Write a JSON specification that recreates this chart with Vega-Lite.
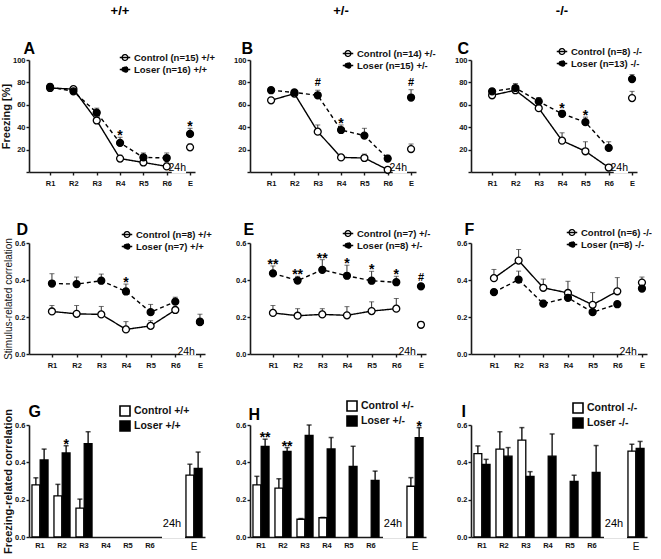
{
"$schema": "https://vega.github.io/schema/vega-lite/v6.json",
"background": "white",
"padding": {"left": 0, "top": 5, "right": 0, "bottom": 0},
"bounds": "flush",
"columns": 3,
"spacing": {"row": 71, "column": 45},
"resolve": {"scale": {"fill": "independent", "strokeDash": "independent", "xOffset": "independent"}, "legend": {"fill": "independent", "strokeDash": "independent"}},
"config": {
  "font": "Liberation Sans",
  "view": {"stroke": null},
  "axis": {"domainColor": "#1a1a1a", "domainWidth": 1.6, "tickColor": "#1a1a1a", "tickWidth": 1.4, "tickSize": 3, "labelFontSize": 7.5, "labelFontWeight": "bold", "labelColor": "#111", "grid": false, "titleColor": "#111", "zindex": 0},
  "axisX": {"labelPadding": 4, "titleAlign": "left", "titleAnchor": "start", "titleBaseline": "alphabetic", "titleFontSize": 16, "titleFontWeight": "bold", "titleColor": "black", "labelAngle": 0},
  "axisY": {"labelPadding": 1, "titlePadding": 1},
  "legend": {"labelFontSize": 9.5, "labelFontWeight": "bold", "labelColor": "#111", "rowPadding": -2, "padding": 0, "symbolStrokeColor": "black", "symbolStrokeWidth": 1.3, "labelOffset": 3, "labelLimit": 200},
  "title": {"anchor": "middle", "frame": "group", "font": "Liberation Sans", "fontWeight": "bold", "fontSize": 13, "color": "black", "offset": 22, "dx": 8}
},
"datasets": {
  "A": [
    {"round": "R1", "group": "Control (n=15) +/+", "value": 75, "err": 77},
    {"round": "R2", "group": "Control (n=15) +/+", "value": 74, "err": 76},
    {"round": "R3", "group": "Control (n=15) +/+", "value": 46, "err": 49},
    {"round": "R4", "group": "Control (n=15) +/+", "value": 12, "err": 15},
    {"round": "R5", "group": "Control (n=15) +/+", "value": 8.5, "err": 11},
    {"round": "R6", "group": "Control (n=15) +/+", "value": 5, "err": 8},
    {"round": "E", "group": "Control (n=15) +/+", "value": 22, "err": 25},
    {"round": "R1", "group": "Loser (n=16) +/+", "value": 76, "err": 79},
    {"round": "R2", "group": "Loser (n=16) +/+", "value": 72, "err": 74},
    {"round": "R3", "group": "Loser (n=16) +/+", "value": 53, "err": 57},
    {"round": "R4", "group": "Loser (n=16) +/+", "value": 26, "err": 31, "sig": "*"},
    {"round": "R5", "group": "Loser (n=16) +/+", "value": 13, "err": 17},
    {"round": "R6", "group": "Loser (n=16) +/+", "value": 12.5, "err": 17},
    {"round": "E", "group": "Loser (n=16) +/+", "value": 34, "err": 39, "sig": "*"}
  ],
  "B": [
    {"round": "R1", "group": "Control (n=14) +/-", "value": 64, "err": 66},
    {"round": "R2", "group": "Control (n=14) +/-", "value": 70, "err": 72},
    {"round": "R3", "group": "Control (n=14) +/-", "value": 36, "err": 42},
    {"round": "R4", "group": "Control (n=14) +/-", "value": 13, "err": 15},
    {"round": "R5", "group": "Control (n=14) +/-", "value": 12.5, "err": 16},
    {"round": "R6", "group": "Control (n=14) +/-", "value": 2, "err": 3},
    {"round": "E", "group": "Control (n=14) +/-", "value": 20.5, "err": 25},
    {"round": "R1", "group": "Loser (n=15) +/-", "value": 73, "err": 75.5},
    {"round": "R2", "group": "Loser (n=15) +/-", "value": 71, "err": 73.5},
    {"round": "R3", "group": "Loser (n=15) +/-", "value": 68.5, "err": 73, "sig": "#"},
    {"round": "R4", "group": "Loser (n=15) +/-", "value": 37.5, "err": 42, "sig": "*"},
    {"round": "R5", "group": "Loser (n=15) +/-", "value": 32.5, "err": 39},
    {"round": "R6", "group": "Loser (n=15) +/-", "value": 12, "err": 15},
    {"round": "E", "group": "Loser (n=15) +/-", "value": 66.5, "err": 73.5, "sig": "#"}
  ],
  "C": [
    {"round": "R1", "group": "Control (n=8) -/-", "value": 68.5, "err": 70},
    {"round": "R2", "group": "Control (n=8) -/-", "value": 73, "err": 76},
    {"round": "R3", "group": "Control (n=8) -/-", "value": 57, "err": 60},
    {"round": "R4", "group": "Control (n=8) -/-", "value": 28, "err": 35},
    {"round": "R5", "group": "Control (n=8) -/-", "value": 18.5, "err": 27},
    {"round": "R6", "group": "Control (n=8) -/-", "value": 4, "err": 5},
    {"round": "E", "group": "Control (n=8) -/-", "value": 66, "err": 72},
    {"round": "R1", "group": "Loser (n=13) -/-", "value": 72, "err": 74.5},
    {"round": "R2", "group": "Loser (n=13) -/-", "value": 75, "err": 79},
    {"round": "R3", "group": "Loser (n=13) -/-", "value": 63, "err": 66.5},
    {"round": "R4", "group": "Loser (n=13) -/-", "value": 52, "err": 55, "sig": "*"},
    {"round": "R5", "group": "Loser (n=13) -/-", "value": 44.5, "err": 49, "sig": "*"},
    {"round": "R6", "group": "Loser (n=13) -/-", "value": 21.5, "err": 27},
    {"round": "E", "group": "Loser (n=13) -/-", "value": 83, "err": 87}
  ],
  "D": [
    {"round": "R1", "group": "Control (n=8) +/+", "value": 0.23, "err": 0.262},
    {"round": "R2", "group": "Control (n=8) +/+", "value": 0.217, "err": 0.262},
    {"round": "R3", "group": "Control (n=8) +/+", "value": 0.214, "err": 0.257},
    {"round": "R4", "group": "Control (n=8) +/+", "value": 0.133, "err": 0.175},
    {"round": "R5", "group": "Control (n=8) +/+", "value": 0.152, "err": 0.18},
    {"round": "R6", "group": "Control (n=8) +/+", "value": 0.238, "err": 0.248},
    {"round": "E", "group": "Control (n=8) +/+", "value": 0.175, "err": 0.19},
    {"round": "R1", "group": "Loser (n=7) +/+", "value": 0.381, "err": 0.434},
    {"round": "R2", "group": "Loser (n=7) +/+", "value": 0.378, "err": 0.416},
    {"round": "R3", "group": "Loser (n=7) +/+", "value": 0.396, "err": 0.432},
    {"round": "R4", "group": "Loser (n=7) +/+", "value": 0.338, "err": 0.378, "sig": "*"},
    {"round": "R5", "group": "Loser (n=7) +/+", "value": 0.226, "err": 0.268},
    {"round": "R6", "group": "Loser (n=7) +/+", "value": 0.283, "err": 0.307},
    {"round": "E", "group": "Loser (n=7) +/+", "value": 0.172, "err": 0.215}
  ],
  "E": [
    {"round": "R1", "group": "Control (n=7) +/-", "value": 0.222, "err": 0.262},
    {"round": "R2", "group": "Control (n=7) +/-", "value": 0.207, "err": 0.245},
    {"round": "R3", "group": "Control (n=7) +/-", "value": 0.214, "err": 0.245},
    {"round": "R4", "group": "Control (n=7) +/-", "value": 0.209, "err": 0.256},
    {"round": "R5", "group": "Control (n=7) +/-", "value": 0.232, "err": 0.282},
    {"round": "R6", "group": "Control (n=7) +/-", "value": 0.245, "err": 0.3},
    {"round": "E", "group": "Control (n=7) +/-", "value": 0.158, "err": 0.175},
    {"round": "R1", "group": "Loser (n=8) +/-", "value": 0.436, "err": 0.476, "sig": "**"},
    {"round": "R2", "group": "Loser (n=8) +/-", "value": 0.397, "err": 0.42, "sig": "**"},
    {"round": "R3", "group": "Loser (n=8) +/-", "value": 0.455, "err": 0.51, "sig": "**"},
    {"round": "R4", "group": "Loser (n=8) +/-", "value": 0.423, "err": 0.48, "sig": "*"},
    {"round": "R5", "group": "Loser (n=8) +/-", "value": 0.396, "err": 0.447, "sig": "*"},
    {"round": "R6", "group": "Loser (n=8) +/-", "value": 0.388, "err": 0.42, "sig": "*"},
    {"round": "E", "group": "Loser (n=8) +/-", "value": 0.366, "err": 0.375, "sig": "#"}
  ],
  "F": [
    {"round": "R1", "group": "Control (n=6) -/-", "value": 0.41, "err": 0.457},
    {"round": "R2", "group": "Control (n=6) -/-", "value": 0.505, "err": 0.565},
    {"round": "R3", "group": "Control (n=6) -/-", "value": 0.358, "err": 0.405},
    {"round": "R4", "group": "Control (n=6) -/-", "value": 0.33, "err": 0.393},
    {"round": "R5", "group": "Control (n=6) -/-", "value": 0.266, "err": 0.332},
    {"round": "R6", "group": "Control (n=6) -/-", "value": 0.339, "err": 0.413},
    {"round": "E", "group": "Control (n=6) -/-", "value": 0.386, "err": 0.416},
    {"round": "R1", "group": "Loser (n=8) -/-", "value": 0.334, "err": 0.35},
    {"round": "R2", "group": "Loser (n=8) -/-", "value": 0.402, "err": 0.448},
    {"round": "R3", "group": "Loser (n=8) -/-", "value": 0.272, "err": 0.29},
    {"round": "R4", "group": "Loser (n=8) -/-", "value": 0.304, "err": 0.33},
    {"round": "R5", "group": "Loser (n=8) -/-", "value": 0.226, "err": 0.235},
    {"round": "R6", "group": "Loser (n=8) -/-", "value": 0.269, "err": 0.28},
    {"round": "E", "group": "Loser (n=8) -/-", "value": 0.354, "err": 0.368}
  ],
  "G": [
    {"round": "R1", "group": "Control +/+", "value": 0.279, "err": 0.317},
    {"round": "R2", "group": "Control +/+", "value": 0.22, "err": 0.282},
    {"round": "R3", "group": "Control +/+", "value": 0.155, "err": 0.203},
    {"round": "E", "group": "Control +/+", "value": 0.332, "err": 0.39},
    {"round": "R1", "group": "Loser +/+", "value": 0.413, "err": 0.471},
    {"round": "R2", "group": "Loser +/+", "value": 0.45, "err": 0.489, "sig": "*"},
    {"round": "R3", "group": "Loser +/+", "value": 0.5, "err": 0.564},
    {"round": "E", "group": "Loser +/+", "value": 0.367, "err": 0.455}
  ],
  "H": [
    {"round": "R1", "group": "Control +/-", "value": 0.279, "err": 0.325},
    {"round": "R2", "group": "Control +/-", "value": 0.262, "err": 0.312},
    {"round": "R3", "group": "Control +/-", "value": 0.095, "err": 0.099},
    {"round": "R4", "group": "Control +/-", "value": 0.103, "err": 0.105},
    {"round": "E", "group": "Control +/-", "value": 0.272, "err": 0.318},
    {"round": "R1", "group": "Loser +/-", "value": 0.486, "err": 0.524, "sig": "**"},
    {"round": "R2", "group": "Loser +/-", "value": 0.459, "err": 0.479, "sig": "**"},
    {"round": "R3", "group": "Loser +/-", "value": 0.544, "err": 0.6},
    {"round": "R4", "group": "Loser +/-", "value": 0.472, "err": 0.533},
    {"round": "R5", "group": "Loser +/-", "value": 0.378, "err": 0.486},
    {"round": "R6", "group": "Loser +/-", "value": 0.303, "err": 0.353},
    {"round": "E", "group": "Loser +/-", "value": 0.532, "err": 0.586, "sig": "*"}
  ],
  "I": [
    {"round": "R1", "group": "Control -/-", "value": 0.447, "err": 0.488},
    {"round": "R2", "group": "Control -/-", "value": 0.471, "err": 0.564},
    {"round": "R3", "group": "Control -/-", "value": 0.519, "err": 0.586},
    {"round": "E", "group": "Control -/-", "value": 0.46, "err": 0.497},
    {"round": "R1", "group": "Loser -/-", "value": 0.389, "err": 0.416},
    {"round": "R2", "group": "Loser -/-", "value": 0.433, "err": 0.479},
    {"round": "R3", "group": "Loser -/-", "value": 0.324, "err": 0.35},
    {"round": "R4", "group": "Loser -/-", "value": 0.433, "err": 0.552},
    {"round": "R5", "group": "Loser -/-", "value": 0.298, "err": 0.331},
    {"round": "R6", "group": "Loser -/-", "value": 0.346, "err": 0.49},
    {"round": "E", "group": "Loser -/-", "value": 0.475, "err": 0.512}
  ]
},
"concat": [
{
  "width": 166, "height": 112,
  "data": {"name": "A"},
  "title": {"text": "+/+"},
  "encoding": {
    "x": {"field": "round", "type": "ordinal", "scale": {"type": "point", "domain": ["R1","R2","R3","R4","R5","R6","E"], "padding": 0.558, "align": 0.81}, "axis": {"title": "A", "titleX": -6, "titleY": -119}},
    "y": {"field": "value", "type": "quantitative", "scale": {"domain": [0, 100]}, "axis": {"title": "Freezing [%]", "titleFontSize": 11, "titleFontWeight": "bold", "values": [0,20,40,60,80,100], "labelExpr": "datum.value == 0 ? '' : datum.label"}}
  },
  "layer": [
    {"data": {"values": [{"round": "R6", "end": "E", "value": 0}]}, "mark": {"type": "rule", "color": "white", "strokeWidth": 3, "xOffset": 5, "x2Offset": -4}, "encoding": {"x2": {"field": "end"}}},
    {"transform": [{"filter": "datum.round != 'E'"}], "mark": {"type": "line", "color": "black", "strokeWidth": 1.4}, "encoding": {"strokeDash": {"field": "group", "type": "nominal", "scale": {"domain": ["Control (n=15) +/+", "Loser (n=16) +/+"], "range": [[1,0],[4,3]]}, "legend": {"title": null, "orient": "none", "legendX": 90, "legendY": -8.5, "symbolType": "M-1,0L1,0M0.55,0A0.55,0.55,0,1,1,-0.55,0A0.55,0.55,0,1,1,0.55,0Z", "symbolSize": 110}}}},
    {"mark": {"type": "rule", "color": "#333", "strokeWidth": 1}, "encoding": {"y2": {"field": "err"}}},
    {"mark": {"type": "tick", "color": "#333", "thickness": 1, "size": 5}, "encoding": {"y": {"field": "err", "type": "quantitative", "scale": {"domain": [0, 100]}, "axis": {"title": "Freezing [%]", "titleFontSize": 11, "titleFontWeight": "bold", "values": [0,20,40,60,80,100], "labelExpr": "datum.value == 0 ? '' : datum.label"}}}},
    {"mark": {"type": "point", "shape": "circle", "filled": true, "size": 48, "stroke": "black", "strokeWidth": 1.3, "opacity": 1}, "encoding": {
      "fill": {"field": "group", "type": "nominal", "scale": {"domain": ["Control (n=15) +/+", "Loser (n=16) +/+"], "range": ["white", "black"]}, "legend": {"title": null, "orient": "none", "legendX": 90, "legendY": -8.5, "symbolType": "M-1,0L1,0M0.55,0A0.55,0.55,0,1,1,-0.55,0A0.55,0.55,0,1,1,0.55,0Z", "symbolSize": 110}}}},
    {"transform": [{"filter": "datum.sig == '*' || datum.sig == '**'"}], "mark": {"type": "text", "fontSize": 14, "fontWeight": "bold", "baseline": "alphabetic", "dy": 3}, "encoding": {"y": {"field": "err", "type": "quantitative", "scale": {"domain": [0, 100]}, "axis": {"title": "Freezing [%]", "titleFontSize": 11, "titleFontWeight": "bold", "values": [0,20,40,60,80,100], "labelExpr": "datum.value == 0 ? '' : datum.label"}}, "text": {"field": "sig"}}},
    {"data": {"values": [{"round": "E", "value": 0, "label": "24h"}]}, "mark": {"type": "text", "align": "right", "baseline": "alphabetic", "dx": -4, "dy": -1, "fontSize": 10.5}, "encoding": {"text": {"field": "label"}}}
  ]
},
{
  "width": 166, "height": 112,
  "data": {"name": "B"},
  "title": {"text": "+/-"},
  "encoding": {
    "x": {"field": "round", "type": "ordinal", "scale": {"type": "point", "domain": ["R1","R2","R3","R4","R5","R6","E"], "padding": 0.558, "align": 0.81}, "axis": {"title": "B", "titleX": -9, "titleY": -119}},
    "y": {"field": "value", "type": "quantitative", "scale": {"domain": [0, 100]}, "axis": {"title": null, "values": [0,20,40,60,80,100], "labelExpr": "datum.value == 0 ? '' : datum.label"}}
  },
  "layer": [
    {"data": {"values": [{"round": "R6", "end": "E", "value": 0}]}, "mark": {"type": "rule", "color": "white", "strokeWidth": 3, "xOffset": 5, "x2Offset": -4}, "encoding": {"x2": {"field": "end"}}},
    {"transform": [{"filter": "datum.round != 'E'"}], "mark": {"type": "line", "color": "black", "strokeWidth": 1.4}, "encoding": {"strokeDash": {"field": "group", "type": "nominal", "scale": {"domain": ["Control (n=14) +/-", "Loser (n=15) +/-"], "range": [[1,0],[4,3]]}, "legend": {"title": null, "orient": "none", "legendX": 92, "legendY": -12.5, "symbolType": "M-1,0L1,0M0.55,0A0.55,0.55,0,1,1,-0.55,0A0.55,0.55,0,1,1,0.55,0Z", "symbolSize": 110}}}},
    {"mark": {"type": "rule", "color": "#333", "strokeWidth": 1}, "encoding": {"y2": {"field": "err"}}},
    {"mark": {"type": "tick", "color": "#333", "thickness": 1, "size": 5}, "encoding": {"y": {"field": "err", "type": "quantitative", "scale": {"domain": [0, 100]}, "axis": {"title": null, "values": [0,20,40,60,80,100], "labelExpr": "datum.value == 0 ? '' : datum.label"}}}},
    {"mark": {"type": "point", "shape": "circle", "filled": true, "size": 48, "stroke": "black", "strokeWidth": 1.3, "opacity": 1}, "encoding": {
      "fill": {"field": "group", "type": "nominal", "scale": {"domain": ["Control (n=14) +/-", "Loser (n=15) +/-"], "range": ["white", "black"]}, "legend": {"title": null, "orient": "none", "legendX": 92, "legendY": -12.5, "symbolType": "M-1,0L1,0M0.55,0A0.55,0.55,0,1,1,-0.55,0A0.55,0.55,0,1,1,0.55,0Z", "symbolSize": 110}}}},
    {"transform": [{"filter": "datum.sig == '*' || datum.sig == '**'"}], "mark": {"type": "text", "fontSize": 14, "fontWeight": "bold", "baseline": "alphabetic", "dy": 3}, "encoding": {"y": {"field": "err", "type": "quantitative", "scale": {"domain": [0, 100]}, "axis": {"title": null, "values": [0,20,40,60,80,100], "labelExpr": "datum.value == 0 ? '' : datum.label"}}, "text": {"field": "sig"}}},
    {"transform": [{"filter": "datum.sig == '#'"}], "mark": {"type": "text", "fontSize": 11, "fontWeight": "bold", "baseline": "alphabetic", "dy": -4}, "encoding": {"y": {"field": "err", "type": "quantitative", "scale": {"domain": [0, 100]}, "axis": {"title": null, "values": [0,20,40,60,80,100], "labelExpr": "datum.value == 0 ? '' : datum.label"}}, "text": {"field": "sig"}}},
    {"data": {"values": [{"round": "E", "value": 0, "label": "24h"}]}, "mark": {"type": "text", "align": "right", "baseline": "alphabetic", "dx": -4, "dy": -1, "fontSize": 10.5}, "encoding": {"text": {"field": "label"}}}
  ]
},
{
  "width": 166, "height": 112,
  "data": {"name": "C"},
  "title": {"text": "-/-"},
  "encoding": {
    "x": {"field": "round", "type": "ordinal", "scale": {"type": "point", "domain": ["R1","R2","R3","R4","R5","R6","E"], "padding": 0.558, "align": 0.81}, "axis": {"title": "C", "titleX": -14, "titleY": -119}},
    "y": {"field": "value", "type": "quantitative", "scale": {"domain": [0, 100]}, "axis": {"title": null, "values": [0,20,40,60,80,100], "labelExpr": "datum.value == 0 ? '' : datum.label"}}
  },
  "layer": [
    {"data": {"values": [{"round": "R6", "end": "E", "value": 0}]}, "mark": {"type": "rule", "color": "white", "strokeWidth": 3, "xOffset": 5, "x2Offset": -4}, "encoding": {"x2": {"field": "end"}}},
    {"transform": [{"filter": "datum.round != 'E'"}], "mark": {"type": "line", "color": "black", "strokeWidth": 1.4}, "encoding": {"strokeDash": {"field": "group", "type": "nominal", "scale": {"domain": ["Control (n=8) -/-", "Loser (n=13) -/-"], "range": [[1,0],[4,3]]}, "legend": {"title": null, "orient": "none", "legendX": 85, "legendY": -14.5, "symbolType": "M-1,0L1,0M0.55,0A0.55,0.55,0,1,1,-0.55,0A0.55,0.55,0,1,1,0.55,0Z", "symbolSize": 110}}}},
    {"mark": {"type": "rule", "color": "#333", "strokeWidth": 1}, "encoding": {"y2": {"field": "err"}}},
    {"mark": {"type": "tick", "color": "#333", "thickness": 1, "size": 5}, "encoding": {"y": {"field": "err", "type": "quantitative", "scale": {"domain": [0, 100]}, "axis": {"title": null, "values": [0,20,40,60,80,100], "labelExpr": "datum.value == 0 ? '' : datum.label"}}}},
    {"mark": {"type": "point", "shape": "circle", "filled": true, "size": 48, "stroke": "black", "strokeWidth": 1.3, "opacity": 1}, "encoding": {
      "fill": {"field": "group", "type": "nominal", "scale": {"domain": ["Control (n=8) -/-", "Loser (n=13) -/-"], "range": ["white", "black"]}, "legend": {"title": null, "orient": "none", "legendX": 85, "legendY": -14.5, "symbolType": "M-1,0L1,0M0.55,0A0.55,0.55,0,1,1,-0.55,0A0.55,0.55,0,1,1,0.55,0Z", "symbolSize": 110}}}},
    {"transform": [{"filter": "datum.sig == '*' || datum.sig == '**'"}], "mark": {"type": "text", "fontSize": 14, "fontWeight": "bold", "baseline": "alphabetic", "dy": 3}, "encoding": {"y": {"field": "err", "type": "quantitative", "scale": {"domain": [0, 100]}, "axis": {"title": null, "values": [0,20,40,60,80,100], "labelExpr": "datum.value == 0 ? '' : datum.label"}}, "text": {"field": "sig"}}},
    {"data": {"values": [{"round": "E", "value": 0, "label": "24h"}]}, "mark": {"type": "text", "align": "right", "baseline": "alphabetic", "dx": -4, "dy": -1, "fontSize": 10.5}, "encoding": {"text": {"field": "label"}}}
  ]
},
{
  "width": 176, "height": 111,
  "data": {"name": "D"},
  "encoding": {
    "x": {"field": "round", "type": "ordinal", "scale": {"type": "point", "domain": ["R1","R2","R3","R4","R5","R6","E"], "padding": 0.567, "align": 0.82}, "axis": {"title": "D", "titleX": -13, "titleY": -120}},
    "y": {"field": "value", "type": "quantitative", "scale": {"domain": [0, 0.6]}, "axis": {"title": "Stimulus-related correlation", "titleFontSize": 10, "titleFontWeight": "normal", "values": [0,0.2,0.4,0.6], "format": ".1f"}}
  },
  "layer": [
    {"data": {"values": [{"round": "R6", "end": "E", "value": 0}]}, "mark": {"type": "rule", "color": "white", "strokeWidth": 3, "xOffset": 5, "x2Offset": -4}, "encoding": {"x2": {"field": "end"}}},
    {"transform": [{"filter": "datum.round != 'E'"}], "mark": {"type": "line", "color": "black", "strokeWidth": 1.4}, "encoding": {"strokeDash": {"field": "group", "type": "nominal", "scale": {"domain": ["Control (n=8) +/+", "Loser (n=7) +/+"], "range": [[1,0],[4,3]]}, "legend": {"title": null, "orient": "none", "legendX": 92, "legendY": -14.5, "symbolType": "M-1,0L1,0M0.55,0A0.55,0.55,0,1,1,-0.55,0A0.55,0.55,0,1,1,0.55,0Z", "symbolSize": 110}}}},
    {"mark": {"type": "rule", "color": "#333", "strokeWidth": 1}, "encoding": {"y2": {"field": "err"}}},
    {"mark": {"type": "tick", "color": "#333", "thickness": 1, "size": 5}, "encoding": {"y": {"field": "err", "type": "quantitative", "scale": {"domain": [0, 0.6]}, "axis": {"title": "Stimulus-related correlation", "titleFontSize": 10, "titleFontWeight": "normal", "values": [0,0.2,0.4,0.6], "format": ".1f"}}}},
    {"mark": {"type": "point", "shape": "circle", "filled": true, "size": 48, "stroke": "black", "strokeWidth": 1.3, "opacity": 1}, "encoding": {
      "fill": {"field": "group", "type": "nominal", "scale": {"domain": ["Control (n=8) +/+", "Loser (n=7) +/+"], "range": ["white", "black"]}, "legend": {"title": null, "orient": "none", "legendX": 92, "legendY": -14.5, "symbolType": "M-1,0L1,0M0.55,0A0.55,0.55,0,1,1,-0.55,0A0.55,0.55,0,1,1,0.55,0Z", "symbolSize": 110}}}},
    {"transform": [{"filter": "datum.sig == '*' || datum.sig == '**'"}], "mark": {"type": "text", "fontSize": 14, "fontWeight": "bold", "baseline": "alphabetic", "dy": 3}, "encoding": {"y": {"field": "err", "type": "quantitative", "scale": {"domain": [0, 0.6]}, "axis": {"title": "Stimulus-related correlation", "titleFontSize": 10, "titleFontWeight": "normal", "values": [0,0.2,0.4,0.6], "format": ".1f"}}, "text": {"field": "sig"}}},
    {"data": {"values": [{"round": "E", "value": 0, "label": "24h"}]}, "mark": {"type": "text", "align": "right", "baseline": "alphabetic", "dx": -5, "dy": 1, "fontSize": 10.5}, "encoding": {"text": {"field": "label"}}}
  ]
},
{
  "width": 176, "height": 111,
  "data": {"name": "E"},
  "encoding": {
    "x": {"field": "round", "type": "ordinal", "scale": {"type": "point", "domain": ["R1","R2","R3","R4","R5","R6","E"], "padding": 0.567, "align": 0.82}, "axis": {"title": "E", "titleX": -7, "titleY": -120}},
    "y": {"field": "value", "type": "quantitative", "scale": {"domain": [0, 0.6]}, "axis": {"title": null, "values": [0,0.2,0.4,0.6], "format": ".1f"}}
  },
  "layer": [
    {"data": {"values": [{"round": "R6", "end": "E", "value": 0}]}, "mark": {"type": "rule", "color": "white", "strokeWidth": 3, "xOffset": 5, "x2Offset": -4}, "encoding": {"x2": {"field": "end"}}},
    {"transform": [{"filter": "datum.round != 'E'"}], "mark": {"type": "line", "color": "black", "strokeWidth": 1.4}, "encoding": {"strokeDash": {"field": "group", "type": "nominal", "scale": {"domain": ["Control (n=7) +/-", "Loser (n=8) +/-"], "range": [[1,0],[4,3]]}, "legend": {"title": null, "orient": "none", "legendX": 92, "legendY": -15.5, "symbolType": "M-1,0L1,0M0.55,0A0.55,0.55,0,1,1,-0.55,0A0.55,0.55,0,1,1,0.55,0Z", "symbolSize": 110}}}},
    {"mark": {"type": "rule", "color": "#333", "strokeWidth": 1}, "encoding": {"y2": {"field": "err"}}},
    {"mark": {"type": "tick", "color": "#333", "thickness": 1, "size": 5}, "encoding": {"y": {"field": "err", "type": "quantitative", "scale": {"domain": [0, 0.6]}, "axis": {"title": null, "values": [0,0.2,0.4,0.6], "format": ".1f"}}}},
    {"mark": {"type": "point", "shape": "circle", "filled": true, "size": 48, "stroke": "black", "strokeWidth": 1.3, "opacity": 1}, "encoding": {
      "fill": {"field": "group", "type": "nominal", "scale": {"domain": ["Control (n=7) +/-", "Loser (n=8) +/-"], "range": ["white", "black"]}, "legend": {"title": null, "orient": "none", "legendX": 92, "legendY": -15.5, "symbolType": "M-1,0L1,0M0.55,0A0.55,0.55,0,1,1,-0.55,0A0.55,0.55,0,1,1,0.55,0Z", "symbolSize": 110}}}},
    {"transform": [{"filter": "datum.sig == '*' || datum.sig == '**'"}], "mark": {"type": "text", "fontSize": 14, "fontWeight": "bold", "baseline": "alphabetic", "dy": 3}, "encoding": {"y": {"field": "err", "type": "quantitative", "scale": {"domain": [0, 0.6]}, "axis": {"title": null, "values": [0,0.2,0.4,0.6], "format": ".1f"}}, "text": {"field": "sig"}}},
    {"transform": [{"filter": "datum.sig == '#'"}], "mark": {"type": "text", "fontSize": 11, "fontWeight": "bold", "baseline": "alphabetic", "dy": -4}, "encoding": {"y": {"field": "err", "type": "quantitative", "scale": {"domain": [0, 0.6]}, "axis": {"title": null, "values": [0,0.2,0.4,0.6], "format": ".1f"}}, "text": {"field": "sig"}}},
    {"data": {"values": [{"round": "E", "value": 0, "label": "24h"}]}, "mark": {"type": "text", "align": "right", "baseline": "alphabetic", "dx": -5, "dy": 1, "fontSize": 10.5}, "encoding": {"text": {"field": "label"}}}
  ]
},
{
  "width": 176, "height": 111,
  "data": {"name": "F"},
  "encoding": {
    "x": {"field": "round", "type": "ordinal", "scale": {"type": "point", "domain": ["R1","R2","R3","R4","R5","R6","E"], "padding": 0.567, "align": 0.82}, "axis": {"title": "F", "titleX": -7, "titleY": -120}},
    "y": {"field": "value", "type": "quantitative", "scale": {"domain": [0, 0.6]}, "axis": {"title": null, "values": [0,0.2,0.4,0.6], "format": ".1f"}}
  },
  "layer": [
    {"data": {"values": [{"round": "R6", "end": "E", "value": 0}]}, "mark": {"type": "rule", "color": "white", "strokeWidth": 3, "xOffset": 5, "x2Offset": -4}, "encoding": {"x2": {"field": "end"}}},
    {"transform": [{"filter": "datum.round != 'E'"}], "mark": {"type": "line", "color": "black", "strokeWidth": 1.4}, "encoding": {"strokeDash": {"field": "group", "type": "nominal", "scale": {"domain": ["Control (n=6) -/-", "Loser (n=8) -/-"], "range": [[1,0],[4,3]]}, "legend": {"title": null, "orient": "none", "legendX": 95, "legendY": -16.5, "symbolType": "M-1,0L1,0M0.55,0A0.55,0.55,0,1,1,-0.55,0A0.55,0.55,0,1,1,0.55,0Z", "symbolSize": 110}}}},
    {"mark": {"type": "rule", "color": "#333", "strokeWidth": 1}, "encoding": {"y2": {"field": "err"}}},
    {"mark": {"type": "tick", "color": "#333", "thickness": 1, "size": 5}, "encoding": {"y": {"field": "err", "type": "quantitative", "scale": {"domain": [0, 0.6]}, "axis": {"title": null, "values": [0,0.2,0.4,0.6], "format": ".1f"}}}},
    {"mark": {"type": "point", "shape": "circle", "filled": true, "size": 48, "stroke": "black", "strokeWidth": 1.3, "opacity": 1}, "encoding": {
      "fill": {"field": "group", "type": "nominal", "scale": {"domain": ["Control (n=6) -/-", "Loser (n=8) -/-"], "range": ["white", "black"]}, "legend": {"title": null, "orient": "none", "legendX": 95, "legendY": -16.5, "symbolType": "M-1,0L1,0M0.55,0A0.55,0.55,0,1,1,-0.55,0A0.55,0.55,0,1,1,0.55,0Z", "symbolSize": 110}}}},
    {"data": {"values": [{"round": "E", "value": 0, "label": "24h"}]}, "mark": {"type": "text", "align": "right", "baseline": "alphabetic", "dx": -5, "dy": 1, "fontSize": 10.5}, "encoding": {"text": {"field": "label"}}}
  ]
},
{
  "width": 176, "height": 112,
  "data": {"name": "G"},
  "encoding": {
    "x": {"field": "round", "type": "ordinal", "scale": {"type": "band", "domain": ["R1","R2","R3","R4","R5","R6","24h","E"], "paddingInner": 0.27, "paddingOuter": 0.135}, "axis": {"title": "G", "titleX": -1, "titleY": -121, "ticks": false, "labelExpr": "datum.value == '24h' ? '' : datum.label", "labelFontSize": {"condition": {"test": "datum.value == 'E'", "value": 10}, "value": 7.5}, "labelFontWeight": {"condition": {"test": "datum.value == 'E'", "value": "normal"}, "value": "bold"}}},
    "y": {"field": "value", "type": "quantitative", "scale": {"domain": [0, 0.6]}, "axis": {"title": "Freezing-related correlation", "titleFontSize": 11, "titleFontWeight": "bold", "values": [0,0.2,0.4,0.6], "format": ".1f"}}
  },
  "layer": [
    {"data": {"values": [{"round": "R6", "end": "E", "value": 0}]}, "mark": {"type": "rule", "color": "white", "strokeWidth": 3, "xOffset": 12, "x2Offset": -9}, "encoding": {"x2": {"field": "end"}}},
    {"mark": {"type": "bar", "stroke": "black", "strokeWidth": 1.3}, "encoding": {"xOffset": {"field": "group", "type": "nominal", "scale": {"domain": ["Control +/+", "Loser +/+"], "paddingInner": 0.05}}, "fill": {"field": "group", "type": "nominal", "scale": {"domain": ["Control +/+", "Loser +/+"], "range": ["white", "black"]}, "legend": {"title": null, "orient": "none", "legendX": 90, "legendY": -20, "symbolType": "square", "symbolSize": 100, "rowPadding": -10, "symbolStrokeWidth": 1.6, "labelFontSize": 10.5}}}},
    {"mark": {"type": "rule", "color": "black", "strokeWidth": 1.3}, "encoding": {"xOffset": {"field": "group", "type": "nominal", "scale": {"domain": ["Control +/+", "Loser +/+"], "paddingInner": 0.05}}, "y2": {"field": "err"}}},
    {"mark": {"type": "tick", "color": "black", "thickness": 1.5, "size": 5}, "encoding": {"xOffset": {"field": "group", "type": "nominal", "scale": {"domain": ["Control +/+", "Loser +/+"], "paddingInner": 0.05}}, "y": {"field": "err", "type": "quantitative", "scale": {"domain": [0, 0.6]}, "axis": {"title": "Freezing-related correlation", "titleFontSize": 11, "titleFontWeight": "bold", "values": [0,0.2,0.4,0.6], "format": ".1f"}}}},
    {"transform": [{"filter": "datum.sig == '*' || datum.sig == '**'"}], "mark": {"type": "text", "fontSize": 14, "fontWeight": "bold", "baseline": "alphabetic", "dy": 3}, "encoding": {"xOffset": {"field": "group", "type": "nominal", "scale": {"domain": ["Control +/+", "Loser +/+"], "paddingInner": 0.05}}, "y": {"field": "err", "type": "quantitative", "scale": {"domain": [0, 0.6]}, "axis": {"title": "Freezing-related correlation", "titleFontSize": 11, "titleFontWeight": "bold", "values": [0,0.2,0.4,0.6], "format": ".1f"}}, "text": {"field": "sig"}}},
    {"data": {"values": [{"round": "24h", "value": 0, "label": "24h"}]}, "mark": {"type": "text", "align": "center", "baseline": "alphabetic", "dy": -10, "fontSize": 11}, "encoding": {"text": {"field": "label"}}}
  ]
},
{
  "width": 176, "height": 112,
  "data": {"name": "H"},
  "encoding": {
    "x": {"field": "round", "type": "ordinal", "scale": {"type": "band", "domain": ["R1","R2","R3","R4","R5","R6","24h","E"], "paddingInner": 0.27, "paddingOuter": 0.135}, "axis": {"title": "H", "titleX": -2, "titleY": -118, "ticks": false, "labelExpr": "datum.value == '24h' ? '' : datum.label", "labelFontSize": {"condition": {"test": "datum.value == 'E'", "value": 10}, "value": 7.5}, "labelFontWeight": {"condition": {"test": "datum.value == 'E'", "value": "normal"}, "value": "bold"}}},
    "y": {"field": "value", "type": "quantitative", "scale": {"domain": [0, 0.6]}, "axis": {"title": null, "values": [0,0.2,0.4,0.6], "format": ".1f"}}
  },
  "layer": [
    {"data": {"values": [{"round": "R6", "end": "E", "value": 0}]}, "mark": {"type": "rule", "color": "white", "strokeWidth": 3, "xOffset": 12, "x2Offset": -9}, "encoding": {"x2": {"field": "end"}}},
    {"mark": {"type": "bar", "stroke": "black", "strokeWidth": 1.3}, "encoding": {"xOffset": {"field": "group", "type": "nominal", "scale": {"domain": ["Control +/-", "Loser +/-"], "paddingInner": 0.05}}, "fill": {"field": "group", "type": "nominal", "scale": {"domain": ["Control +/-", "Loser +/-"], "range": ["white", "black"]}, "legend": {"title": null, "orient": "none", "legendX": 96, "legendY": -25, "symbolType": "square", "symbolSize": 100, "rowPadding": -9, "symbolStrokeWidth": 1.6, "labelFontSize": 10.5}}}},
    {"mark": {"type": "rule", "color": "black", "strokeWidth": 1.3}, "encoding": {"xOffset": {"field": "group", "type": "nominal", "scale": {"domain": ["Control +/-", "Loser +/-"], "paddingInner": 0.05}}, "y2": {"field": "err"}}},
    {"mark": {"type": "tick", "color": "black", "thickness": 1.5, "size": 5}, "encoding": {"xOffset": {"field": "group", "type": "nominal", "scale": {"domain": ["Control +/-", "Loser +/-"], "paddingInner": 0.05}}, "y": {"field": "err", "type": "quantitative", "scale": {"domain": [0, 0.6]}, "axis": {"title": null, "values": [0,0.2,0.4,0.6], "format": ".1f"}}}},
    {"transform": [{"filter": "datum.sig == '*' || datum.sig == '**'"}], "mark": {"type": "text", "fontSize": 14, "fontWeight": "bold", "baseline": "alphabetic", "dy": 3}, "encoding": {"xOffset": {"field": "group", "type": "nominal", "scale": {"domain": ["Control +/-", "Loser +/-"], "paddingInner": 0.05}}, "y": {"field": "err", "type": "quantitative", "scale": {"domain": [0, 0.6]}, "axis": {"title": null, "values": [0,0.2,0.4,0.6], "format": ".1f"}}, "text": {"field": "sig"}}},
    {"data": {"values": [{"round": "24h", "value": 0, "label": "24h"}]}, "mark": {"type": "text", "align": "center", "baseline": "alphabetic", "dy": -10, "fontSize": 11}, "encoding": {"text": {"field": "label"}}}
  ]
},
{
  "width": 176, "height": 112,
  "data": {"name": "I"},
  "encoding": {
    "x": {"field": "round", "type": "ordinal", "scale": {"type": "band", "domain": ["R1","R2","R3","R4","R5","R6","24h","E"], "paddingInner": 0.27, "paddingOuter": 0.135}, "axis": {"title": "I", "titleX": -10, "titleY": -121, "ticks": false, "labelExpr": "datum.value == '24h' ? '' : datum.label", "labelFontSize": {"condition": {"test": "datum.value == 'E'", "value": 10}, "value": 7.5}, "labelFontWeight": {"condition": {"test": "datum.value == 'E'", "value": "normal"}, "value": "bold"}}},
    "y": {"field": "value", "type": "quantitative", "scale": {"domain": [0, 0.6]}, "axis": {"title": null, "values": [0,0.2,0.4,0.6], "format": ".1f"}}
  },
  "layer": [
    {"data": {"values": [{"round": "R6", "end": "E", "value": 0}]}, "mark": {"type": "rule", "color": "white", "strokeWidth": 3, "xOffset": 12, "x2Offset": -9}, "encoding": {"x2": {"field": "end"}}},
    {"mark": {"type": "bar", "stroke": "black", "strokeWidth": 1.3}, "encoding": {"xOffset": {"field": "group", "type": "nominal", "scale": {"domain": ["Control -/-", "Loser -/-"], "paddingInner": 0.05}}, "fill": {"field": "group", "type": "nominal", "scale": {"domain": ["Control -/-", "Loser -/-"], "range": ["white", "black"]}, "legend": {"title": null, "orient": "none", "legendX": 101, "legendY": -23, "symbolType": "square", "symbolSize": 100, "rowPadding": -9, "symbolStrokeWidth": 1.6, "labelFontSize": 10.5}}}},
    {"mark": {"type": "rule", "color": "black", "strokeWidth": 1.3}, "encoding": {"xOffset": {"field": "group", "type": "nominal", "scale": {"domain": ["Control -/-", "Loser -/-"], "paddingInner": 0.05}}, "y2": {"field": "err"}}},
    {"mark": {"type": "tick", "color": "black", "thickness": 1.5, "size": 5}, "encoding": {"xOffset": {"field": "group", "type": "nominal", "scale": {"domain": ["Control -/-", "Loser -/-"], "paddingInner": 0.05}}, "y": {"field": "err", "type": "quantitative", "scale": {"domain": [0, 0.6]}, "axis": {"title": null, "values": [0,0.2,0.4,0.6], "format": ".1f"}}}},
    {"data": {"values": [{"round": "24h", "value": 0, "label": "24h"}]}, "mark": {"type": "text", "align": "center", "baseline": "alphabetic", "dy": -10, "fontSize": 11}, "encoding": {"text": {"field": "label"}}}
  ]
}
]
}
